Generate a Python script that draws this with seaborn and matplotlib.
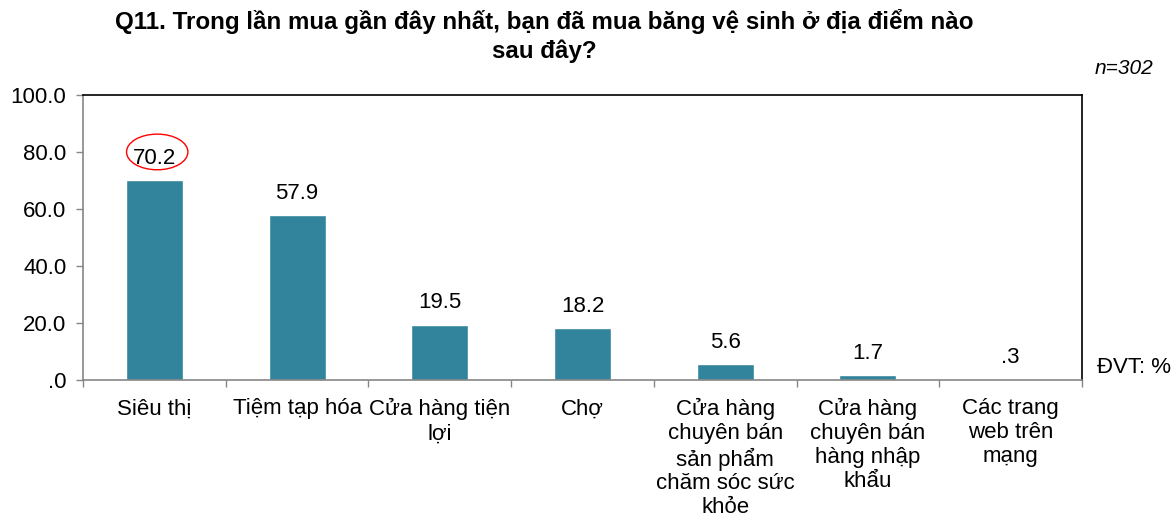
import matplotlib
matplotlib.use("Agg")
import matplotlib.pyplot as plt
import seaborn as sns
from matplotlib.patches import Ellipse
from matplotlib.ticker import FuncFormatter

categories = [
    "Siêu thị",
    "Tiệm tạp hóa",
    "Cửa hàng tiện\nlợi",
    "Chợ",
    "Cửa hàng\nchuyên bán\nsản phẩm\nchăm sóc sức\nkhỏe",
    "Cửa hàng\nchuyên bán\nhàng nhập\nkhẩu",
    "Các trang\nweb trên\nmạng",
]
values = [70.2, 57.9, 19.5, 18.2, 5.6, 1.7, 0.3]
y_ticks = [0, 20, 40, 60, 80, 100]

title = "Q11. Trong lần mua gần đây nhất, bạn đã mua băng vệ sinh ở địa điểm nào\nsau đây?"
bar_color = "#31849B"
grey = "#868686"
fs = 16


def fmt(v, pos=None):
    s = f"{v:.1f}"
    if s.startswith("0."):
        s = s[1:]
    return s


sns.set_theme(style="white")
plt.rcParams["font.family"] = ["Liberation Sans", "DejaVu Sans"]
plt.rcParams["text.color"] = "black"
plt.rcParams["xtick.color"] = "black"
plt.rcParams["ytick.color"] = "black"

fig = plt.figure(figsize=(11.76, 5.13), dpi=100)
ax = fig.add_axes([0.0706, 0.259, 0.8494, 0.556])

sns.barplot(x=categories, y=values, color=bar_color, width=0.40,
            saturation=1, ax=ax)

for i, v in enumerate(values):
    ax.annotate(fmt(v), (i, v), xytext=(0, 8), textcoords="offset points",
                ha="center", va="bottom", fontsize=fs, color="black")

# red circle round the top value
ax.add_patch(Ellipse((0.02, 80.0), 0.43, 12.5, fill=False, edgecolor="red",
                     linewidth=1.0, clip_on=False))

ax.set_xlim(-0.5, len(categories) - 0.5)
ax.set_ylim(0, 100)
ax.set_yticks(y_ticks)
ax.yaxis.set_major_formatter(FuncFormatter(fmt))
ax.set_xticks([i - 0.5 for i in range(len(categories) + 1)], minor=False)
ax.set_xticklabels([])
ax.set_xticks(range(len(categories)), minor=True)
ax.set_xticklabels(categories, minor=True, fontsize=fs, linespacing=1.18)
ax.tick_params(axis="x", which="minor", length=0, pad=13)
ax.tick_params(axis="x", which="major", direction="out", length=5,
               color=grey, width=1, bottom=True)
ax.tick_params(axis="y", direction="out", length=5, color=grey, width=1,
               left=True, labelsize=fs, pad=7)
ax.set_xlabel("")
ax.set_ylabel("")

for side in ["left", "bottom"]:
    ax.spines[side].set_color(grey)
    ax.spines[side].set_linewidth(1.2)
for side in ["top", "right"]:
    ax.spines[side].set_color("black")
    ax.spines[side].set_linewidth(1.2)

fig.text(0.463, 0.983, title, ha="center", va="top", fontsize=17.4,
         fontweight="bold", linespacing=1.33)
fig.text(0.981, 0.866, "n=302", ha="right", va="center", fontsize=15,
         style="italic")
fig.text(0.933, 0.283, "ĐVT: %", ha="left", va="center", fontsize=fs)

fig.savefig("out.png", dpi=100)
